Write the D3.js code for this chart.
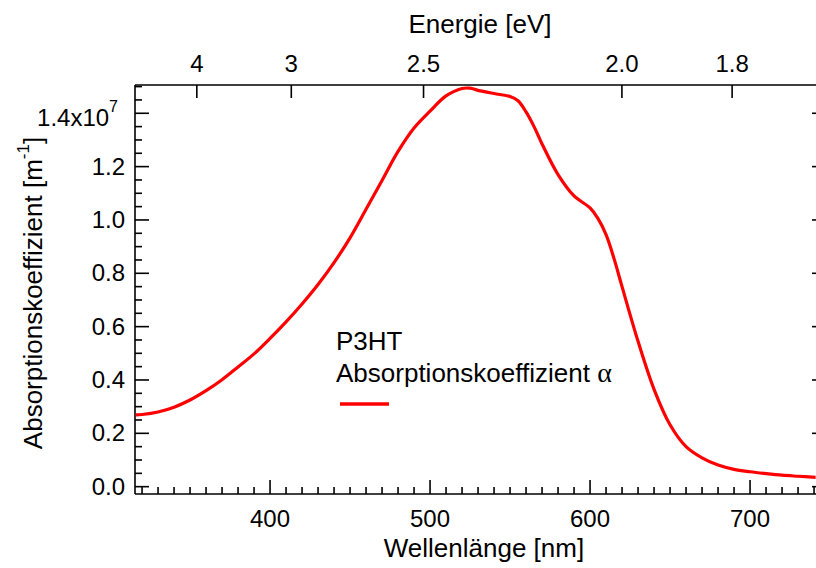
<!DOCTYPE html>
<html>
<head>
<meta charset="utf-8">
<script src="https://cdn.jsdelivr.net/npm/d3@7"></script>
<style>
html,body{margin:0;padding:0;background:#fff;}
svg{display:block;font-family:"Liberation Sans",Arial,sans-serif;}
</style>
</head>
<body>
<svg id="chart" width="816" height="568"></svg>
<script>
// ---- data ----
const wavelength = [316,320,330,340,350,360,370,380,390,400,410,420,430,440,450,460,470,480,490,500,510,520,525,530,540,550,555,560,565,570,580,590,600,605,610,615,620,630,640,650,660,670,680,690,700,710,720,730,741];
const alpha = [0.269,0.2705,0.280,0.298,0.325,0.360,0.401,0.449,0.498,0.556,0.618,0.685,0.758,0.84,0.933,1.04,1.148,1.257,1.345,1.408,1.465,1.493,1.494,1.486,1.474,1.463,1.447,1.405,1.35,1.285,1.17,1.09,1.045,1.005,0.945,0.855,0.75,0.545,0.365,0.232,0.150,0.108,0.081,0.065,0.056,0.049,0.043,0.039,0.035].map(v => v * 1e7);
const xTicksMajor = [400,500,600,700];
const yTicksMajor = [0,0.2e7,0.4e7,0.6e7,0.8e7,1.0e7,1.2e7,1.4e7];
const yTickLabels = ["0.0","0.2","0.4","0.6","0.8","1.0","1.2","1.4x10"];
const energyTicks = [3.5,3,2.5,2.0,1.8];
const energyLabels = ["4","3","2.5","2.0","1.8"];
const seriesName = ["P3HT","Absorptionskoeffizient "];

// ---- layout ----
const L = 135, R = 819, T = 85, B = 494;
const svg = d3.select("#chart");
const x = d3.scaleLinear().domain([315.6, 743.1]).range([L, R]);
const y = d3.scaleLinear().domain([-0.0275e7, 1.506e7]).range([B, T]);
const black = "#000";

// frame lines
const g = svg.append("g").attr("stroke", black).attr("stroke-width", 1.6).attr("fill","none");
g.append("line").attr("x1", L).attr("x2", L).attr("y1", T).attr("y2", B);
g.append("line").attr("x1", L).attr("x2", R).attr("y1", T).attr("y2", T);
g.append("line").attr("x1", L).attr("x2", R).attr("y1", B).attr("y2", B);
g.append("line").attr("x1", R).attr("x2", R).attr("y1", T).attr("y2", B);

// bottom ticks (inward)
const xMinor = d3.range(320, 741, 10);
g.selectAll(".xt").data(xMinor).enter().append("line")
  .attr("x1", d => x(d)).attr("x2", d => x(d))
  .attr("y1", B).attr("y2", d => B - (d % 100 === 0 ? 14 : 7));

// left ticks (inward)
const yMinor = d3.range(0, 31).map(i => i * 0.05e7);
g.selectAll(".yt").data(yMinor).enter().append("line")
  .attr("y1", d => y(d)).attr("y2", d => y(d))
  .attr("x1", L).attr("x2", (d, i) => L + (i % 4 === 0 ? 14 : 7));

// right ticks (mirror, major only)
g.selectAll(".yr").data(yTicksMajor).enter().append("line")
  .attr("y1", d => y(d)).attr("y2", d => y(d))
  .attr("x1", R).attr("x2", R - 7);

// top ticks (energy)
g.selectAll(".et").data(energyTicks).enter().append("line")
  .attr("x1", d => x(1239.84 / d)).attr("x2", d => x(1239.84 / d))
  .attr("y1", T).attr("y2", T + 13);

// tick labels
const fs = 24;
svg.selectAll(".xl").data(xTicksMajor).enter().append("text")
  .attr("x", d => x(d)).attr("y", B + 33).attr("text-anchor", "middle")
  .attr("font-size", fs).text(d => d);

svg.selectAll(".el").data(energyTicks).enter().append("text")
  .attr("x", d => x(1239.84 / d)).attr("y", T - 13).attr("text-anchor", "middle")
  .attr("font-size", fs).text((d, i) => energyLabels[i]);

yTicksMajor.forEach((v, i) => {
  if (i < yTicksMajor.length - 1) {
    svg.append("text").attr("x", L - 10).attr("y", y(v) + 8)
      .attr("text-anchor", "end").attr("font-size", fs).text(yTickLabels[i]);
  } else {
    const t = svg.append("text").attr("x", L - 17).attr("y", y(v) + 13)
      .attr("text-anchor", "end").attr("font-size", fs);
    t.append("tspan").text(yTickLabels[i]);
    t.append("tspan").attr("font-size", 16).attr("dy", -14).text("7");
  }
});

// axis titles
const tfs = 26;
svg.append("text").attr("x", 480).attr("y", 33).attr("text-anchor", "middle")
  .attr("font-size", tfs).text("Energie [eV]");
svg.append("text").attr("x", 484).attr("y", 557).attr("text-anchor", "middle")
  .attr("font-size", tfs).text("Wellenlänge [nm]");
const yt = svg.append("text").attr("transform", "translate(42,293) rotate(-90)")
  .attr("text-anchor", "middle").attr("font-size", tfs);
yt.append("tspan").text("Absorptionskoeffizient [m");
yt.append("tspan").attr("font-size", 17).attr("dy", -13).text("-1");
yt.append("tspan").attr("dy", 13).text("]");

// curve
const pts = wavelength.map((w, i) => [w, alpha[i]]);
svg.append("path").datum(pts)
  .attr("fill", "none").attr("stroke", "#ff0000").attr("stroke-width", 3.2)
  .attr("stroke-linejoin", "round")
  .attr("d", d3.line().x(d => x(d[0])).y(d => y(d[1])).curve(d3.curveCatmullRom.alpha(0.5)));

// legend
svg.append("text").attr("x", 336).attr("y", 350).attr("font-size", tfs).text(seriesName[0]);
const lt = svg.append("text").attr("x", 336).attr("y", 382).attr("font-size", tfs);
lt.append("tspan").text(seriesName[1]);
lt.append("tspan").attr("font-family", "'Liberation Serif','DejaVu Serif',serif").attr("font-size", 28).text("α");
svg.append("line").attr("x1", 340).attr("x2", 389).attr("y1", 404).attr("y2", 404)
  .attr("stroke", "#ff0000").attr("stroke-width", 3.4);
</script>
</body>
</html>
